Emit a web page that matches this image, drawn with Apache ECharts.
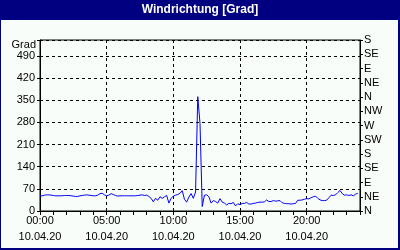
<!DOCTYPE html>
<html><head><meta charset="utf-8">
<script src="https://cdn.jsdelivr.net/npm/echarts@6/dist/echarts.min.js"></script>
<style>html,body{margin:0;padding:0;background:#fff}#c{width:400px;height:250px}</style>
</head><body><div id="c"></div>
<script>
const chartTitle = 'Windrichtung [Grad]';
const yName = 'Grad';
const dateLabel = '10.04.20';
// 10-minute time grid 00:00 .. 24:00
const times = [];
for (let h = 0; h <= 24; h++) for (let m = 0; m < 60; m += 10) { if (h === 24 && m > 0) break; times.push(String(h).padStart(2,'0') + ':' + String(m).padStart(2,'0')); }
const windDir = [
  47,48,50,51,51,50,
  49,48,48,48,48,49,
  49,49,48,47,46,46,
  48,49,50,51,50,49,
  48,48,50,55,56,51,
  48,50,55,52,49,47,
  48,48,48,48,48,48,
  48,48,49,50,51,49,
  50,46,40,29,40,34,
  45,40,45,49,25,40,
  47,50,52,56,64,37,
  28,44,55,40,60,361,
  277,14,50,51,45,25,
  33,30,25,39,28,25,
  19,24,23,27,16,23,
  20,24,24,27,22,22,
  24,25,27,28,28,29,
  35,30,30,33,31,32,
  33,26,24,23,23,22,
  23,24,34,34,35,37,
  39,38,42,45,47,40,
  35,33,33,34,42,50,
  49,51,58,65,55,50,
  51,49,51,48,53,56
];
const compassLabels = ['N','NE','E','SE','S','SW','W','NW','N','NE','E','SE','S'];

const NAVY = '#000080';
const FONT = 'Liberation Sans';
const chart = echarts.init(document.getElementById('c'), null, {renderer: 'canvas'});
chart.setOption({
  animation: false,
  backgroundColor: '#F9FDF9',
  title: {
    text: chartTitle, left: 'center', top: 3, padding: 0,
    textStyle: {color: '#fff', fontFamily: FONT, fontWeight: 'bold', fontSize: 12, lineHeight: 14}
  },
  graphic: [
    {type: 'rect', z: -1, silent: true, shape: {x: 0, y: 0, width: 400, height: 20}, style: {fill: NAVY}},
    {type: 'rect', silent: true, shape: {x: 0, y: 0, width: 1, height: 250}, style: {fill: NAVY}},
    {type: 'rect', silent: true, shape: {x: 398, y: 0, width: 2, height: 250}, style: {fill: NAVY}},
    {type: 'rect', silent: true, shape: {x: 0, y: 248, width: 400, height: 2}, style: {fill: NAVY}},
    {type: 'text', silent: true, style: {text: yName, x: 36, y: 45, align: 'right', verticalAlign: 'middle', fontFamily: FONT, fontSize: 11, fill: '#000'}}
  ],
  grid: {left: 40, right: 40, top: 40, bottom: 39, show: true, borderColor: '#000', borderWidth: 1, backgroundColor: 'transparent', containLabel: false},
  xAxis: {
    type: 'category', data: times, boundaryGap: false,
    axisLine: {lineStyle: {color: '#000', width: 1}},
    axisTick: {show: true, interval: 5, length: 4, inside: false, lineStyle: {color: '#000'}},
    axisLabel: {interval: 29, margin: 2, color: '#000', fontFamily: FONT, fontSize: 11, lineHeight: 16,
      formatter: v => v === '24:00' ? '' : v + '\n' + dateLabel},
    splitLine: {show: true, interval: 29, lineStyle: {color: '#000', type: [3, 3], width: 1}}
  },
  yAxis: [
    {
      type: 'value', min: 0, max: 540, interval: 70, position: 'left',
      axisLine: {show: true, lineStyle: {color: '#000'}},
      axisTick: {show: true, length: 3, lineStyle: {color: '#000'}},
      axisLabel: {margin: 5, color: '#000', fontFamily: FONT, fontSize: 11, showMaxLabel: true,
        formatter: v => v === 540 ? '' : String(v)},
      splitLine: {show: true, lineStyle: {color: '#000', type: [3, 3], width: 1}}
    },
    {
      type: 'value', min: 0, max: 540, interval: 45, position: 'right',
      axisLine: {show: true, lineStyle: {color: '#000'}},
      axisTick: {show: true, length: 3, lineStyle: {color: '#000'}},
      axisLabel: {margin: 4, color: '#000', fontFamily: FONT, fontSize: 11, showMaxLabel: true, showMinLabel: true,
        formatter: v => compassLabels[Math.round(v / 45)]},
      splitLine: {show: false}
    }
  ],
  series: [{
    type: 'line', data: windDir, yAxisIndex: 0, showSymbol: false, symbol: 'none',
    lineStyle: {color: '#0000ff', width: 1}, itemStyle: {color: '#0000ff'}
  }]
});
</script></body></html>
